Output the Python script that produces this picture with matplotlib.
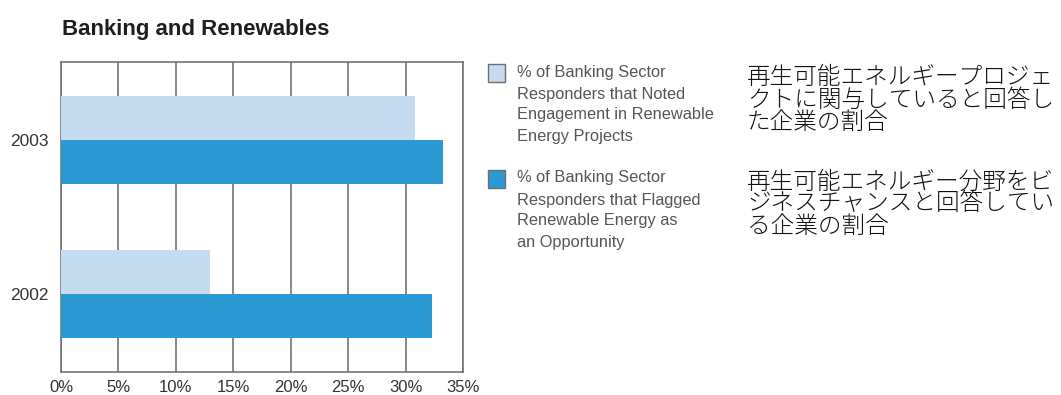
import matplotlib
matplotlib.use("Agg")
import matplotlib.pyplot as plt
from matplotlib.patches import Rectangle

# Data
years = ["2002", "2003"]
engaged_pct = [13.0, 30.8]       # noted engagement in renewable energy projects
opportunity_pct = [32.3, 33.3]   # flagged renewable energy as an opportunity
x_ticks = [0, 5, 10, 15, 20, 25, 30, 35]
x_tick_labels = ["0%", "5%", "10%", "15%", "20%", "25%", "30%", "35%"]

title = "Banking and Renewables"
legend_en = [
    ["% of Banking Sector", "Responders that Noted",
     "Engagement in Renewable", "Energy Projects"],
    ["% of Banking Sector", "Responders that Flagged",
     "Renewable Energy as", "an Opportunity"],
]
legend_ja = [
    ["再生可能エネルギープロジェ", "クトに関与していると回答し", "た企業の割合"],
    ["再生可能エネルギー分野をビ", "ジネスチャンスと回答してい", "る企業の割合"],
]

LIGHT = "#c5dcf0"
DARK = "#2b9ad2"
GRID = "#6a6a6a"
EN_FONT = "Liberation Sans"
JA_FONT = ["Noto Sans CJK JP", "DejaVu Sans"]

W, H = 1061, 395
fig = plt.figure(figsize=(W / 100, H / 100), dpi=100)
fig.patch.set_facecolor("white")


def fx(px):
    return px / W


def fy(py):
    return 1 - py / H


ax = fig.add_axes([fx(61), fy(372), fx(463) - fx(61), fy(62) - fy(372)])
ax.set_xlim(0, 35)
ax.set_ylim(-0.506, 1.506)

bar_h = 0.286
pos = list(range(len(years)))
ax.barh([p + bar_h / 2 for p in pos], engaged_pct, height=bar_h,
        color=LIGHT, edgecolor="none", zorder=3)
ax.barh([p - bar_h / 2 for p in pos], opportunity_pct, height=bar_h,
        color=DARK, edgecolor="none", zorder=3)

ax.set_xticks(x_ticks)
ax.set_xticklabels(x_tick_labels, fontsize=12, color="#333333",
                   fontfamily=EN_FONT)
ax.set_yticks(pos)
ax.set_yticklabels(years, fontsize=12.5, color="#333333",
                   fontfamily=EN_FONT)
ax.tick_params(axis="x", length=0, pad=6)
ax.tick_params(axis="y", length=0, pad=9)
ax.xaxis.grid(True, color=GRID, linewidth=1.1, zorder=1)
ax.set_axisbelow(True)
for sp in ax.spines.values():
    sp.set_color(GRID)
    sp.set_linewidth(1.1)

fig.text(fx(62), fy(30), title, fontsize=16, fontweight="bold",
         color="#1e1e1e", fontfamily=EN_FONT, ha="left", va="center")

# Legend swatches and labels
swatch_tops = [64, 170]
en_rows = [[73, 94, 115, 137], [178, 200, 221, 243]]
for color, top, lines, rows in zip([LIGHT, DARK], swatch_tops, legend_en, en_rows):
    fig.patches.append(Rectangle((fx(488), fy(top + 18)), fx(17), fy(0) - fy(18),
                                 transform=fig.transFigure, facecolor=color,
                                 edgecolor="#6f6f6f", linewidth=1.0))
    for text, y in zip(lines, rows):
        fig.text(fx(517), fy(y), text, fontsize=11.8, color="#555555",
                 fontfamily=EN_FONT, ha="left", va="center")

# Japanese captions, one wrapped block per series
ja_centers = [100, 204]
for lines, yc in zip(legend_ja, ja_centers):
    fig.text(fx(747), fy(yc), "\n".join(lines), fontsize=17, color="#111111",
             family=JA_FONT, fontweight="light", ha="left", va="center",
             multialignment="left", linespacing=0.85)

fig.savefig("out.png", dpi=100)
